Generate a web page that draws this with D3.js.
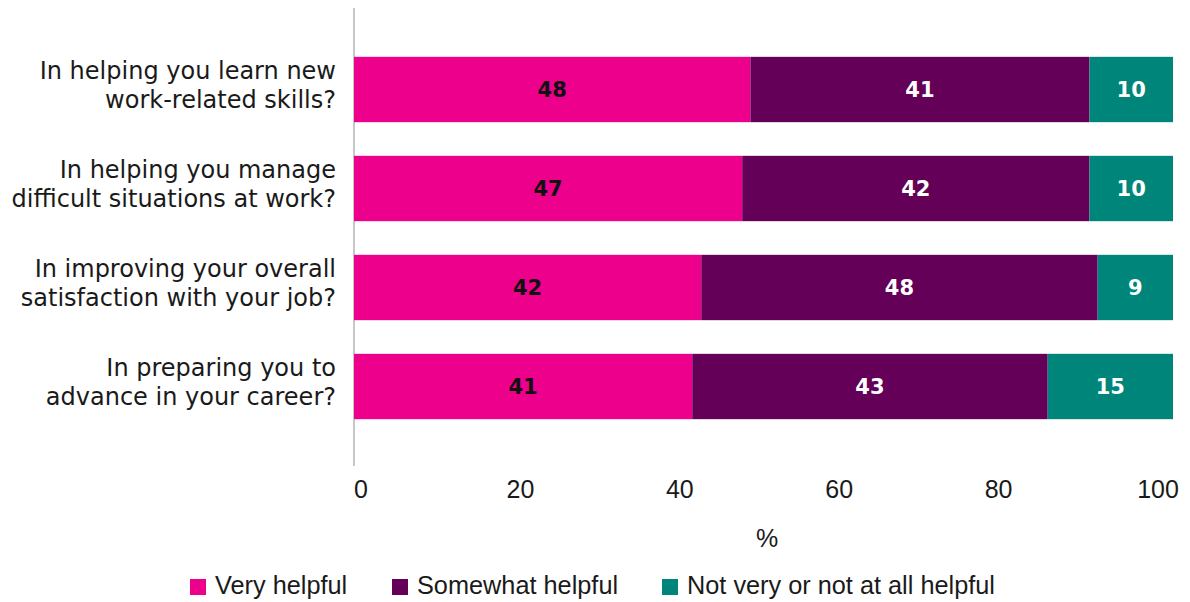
<!DOCTYPE html>
<html>
<head>
<meta charset="utf-8">
<script src="https://cdn.jsdelivr.net/npm/d3@7"></script>
<style>
  body { margin: 0; background: #fff; }
  svg { display: block; }
</style>
</head>
<body>
<svg id="chart" width="1190" height="602"></svg>
<script>
// data (segments stretched to 100%)
var questions = [
	["In helping you learn new", "work-related skills?"],
	["In helping you manage", "difficult situations at work?"],
	["In improving your overall", "satisfaction with your job?"],
	["In preparing you to", "advance in your career?"]
];
var seriesNames = ["Very helpful", "Somewhat helpful", "Not very or not at all helpful"];
var veryHelpful = [48.4, 47.4, 42.4, 41.3];
var somewhatHelpful = [41.4, 42.4, 48.4, 43.4];
var notHelpful = [10.2, 10.2, 9.2, 15.3];
var xTicks = [0, 20, 40, 60, 80, 100];

var colors = ["#ec008c", "#640058", "#00857a"];
var labelColors = ["#111", "#fff", "#fff"];

var svg = d3.select("#chart");

var x = d3.scaleLinear().domain([0, 100]).range([354, 1173]);
// tick labels in the original sit slightly inside the bar extent
var xLabel = d3.scaleLinear().domain([0, 100]).range([361, 1158]);
var y = d3.scaleBand().domain(d3.range(questions.length)).range([40, 436]).paddingInner(0.34).paddingOuter(0.17);

var rows = questions.map(function(q, i) {
	return { i: i, values: [veryHelpful[i], somewhatHelpful[i], notHelpful[i]] };
});

// vertical axis line
svg.append("line")
	.attr("x1", x(0)).attr("x2", x(0))
	.attr("y1", 8).attr("y2", 466)
	.attr("stroke", "#c8c8c8").attr("stroke-width", 2);

var row = svg.selectAll(".row").data(rows).enter().append("g").attr("class", "row");

row.each(function(r) {
	var g = d3.select(this);
	var start = 0;
	r.values.forEach(function(v, k) {
		g.append("rect")
			.attr("x", x(start))
			.attr("y", y(r.i))
			.attr("width", x(start + v) - x(start))
			.attr("height", y.bandwidth())
			.attr("fill", colors[k]);
		g.append("text")
			.attr("x", (x(start) + x(start + v)) / 2)
			.attr("y", y(r.i) + y.bandwidth() / 2)
			.attr("dy", "0.36em")
			.attr("text-anchor", "middle")
			.attr("font-family", "'DejaVu Sans', sans-serif")
			.attr("font-weight", "bold")
			.attr("font-size", 21)
			.attr("fill", labelColors[k])
			.text(Math.round(v));
		start += v;
	});

	// category label, two lines, right aligned
	var t = g.append("text")
		.attr("x", 336)
		.attr("text-anchor", "end")
		.attr("font-family", "'DejaVu Sans', sans-serif")
		.attr("font-size", 24)
		.attr("fill", "#1a1a1a");
	questions[r.i].forEach(function(line, j) {
		t.append("tspan")
			.attr("x", 336)
			.attr("y", y(r.i) + y.bandwidth() / 2 - 11 + j * 29.5)
			.text(line);
	});
});

// x tick labels
svg.selectAll(".tick-label").data(xTicks).enter().append("text")
	.attr("class", "tick-label")
	.attr("x", function(d) { return xLabel(d); })
	.attr("y", 498)
	.attr("text-anchor", "middle")
	.attr("font-family", "'Liberation Sans', sans-serif")
	.attr("font-size", 25)
	.attr("fill", "#1a1a1a")
	.text(function(d) { return d; });

svg.append("text")
	.attr("x", 767).attr("y", 547)
	.attr("text-anchor", "middle")
	.attr("font-family", "'Liberation Sans', sans-serif")
	.attr("font-size", 25)
	.attr("fill", "#1a1a1a")
	.text("%");

// legend
var legendX = [190, 392, 662];
var legend = svg.selectAll(".legend").data(seriesNames).enter().append("g")
	.attr("class", "legend")
	.attr("transform", function(d, k) { return "translate(" + legendX[k] + ",579)"; });

legend.append("rect")
	.attr("width", 16).attr("height", 16)
	.attr("fill", function(d, k) { return colors[k]; });

legend.append("text")
	.attr("x", 25).attr("y", 15)
	.attr("font-family", "'Liberation Sans Narrow', 'Liberation Sans', sans-serif")
	.attr("font-size", 25.3)
	.attr("fill", "#1a1a1a")
	.text(function(d) { return d; });
</script>
</body>
</html>
